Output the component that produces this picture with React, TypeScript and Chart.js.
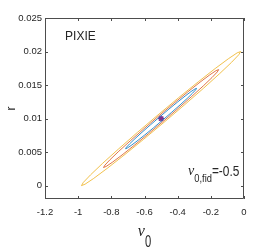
import React, { useEffect, useRef } from 'react';
import { Chart, registerables } from 'chart.js';
Chart.register(...registerables);

const xTicks = [-1.2, -1, -0.8, -0.6, -0.4, -0.2, 0];
const yTicks = [0, 0.005, 0.01, 0.015, 0.02, 0.025];

const orangeX = [-0.02, -0.0315, -0.075, -0.1474, -0.2438, -0.3576, -0.4813, -0.6062, -0.7238, -0.8262, -0.9063, -0.9589, -0.98, -0.9686, -0.925, -0.8526, -0.7562, -0.6424, -0.5187, -0.3938, -0.2762, -0.1738, -0.0937, -0.0412];
const orangeY = [0.02, 0.01952, 0.01839, 0.01669, 0.01453, 0.01207, 0.00946, 0.00689, 0.00453, 0.00255, 0.00107, 0.0002, 0.0, 0.00048, 0.00161, 0.00332, 0.00547, 0.00794, 0.01054, 0.01312, 0.01547, 0.01746, 0.01893, 0.0198];

const redX = [-0.153, -0.1613, -0.1927, -0.2451, -0.3147, -0.3969, -0.4863, -0.5767, -0.6617, -0.7356, -0.7937, -0.8317, -0.847, -0.8387, -0.8073, -0.755, -0.6853, -0.6031, -0.5137, -0.4233, -0.3383, -0.2644, -0.2063, -0.1683];
const redY = [0.0173, 0.01695, 0.01612, 0.01488, 0.01331, 0.01151, 0.0096, 0.00773, 0.00601, 0.00456, 0.00348, 0.00285, 0.0027, 0.00305, 0.00388, 0.00512, 0.00669, 0.00849, 0.0104, 0.01227, 0.01399, 0.01544, 0.01652, 0.01715];

const blueX = [-0.286, -0.2911, -0.3104, -0.3426, -0.3856, -0.4363, -0.4914, -0.5471, -0.5996, -0.6452, -0.681, -0.7045, -0.714, -0.7089, -0.6896, -0.6574, -0.6144, -0.5637, -0.5086, -0.4529, -0.4004, -0.3548, -0.319, -0.2955];
const blueY = [0.0145, 0.01429, 0.01378, 0.013, 0.01203, 0.01093, 0.00975, 0.00859, 0.00753, 0.00664, 0.00598, 0.00559, 0.0055, 0.00572, 0.00623, 0.007, 0.00797, 0.00907, 0.01025, 0.01141, 0.01247, 0.01336, 0.01403, 0.01442];

const fiducial = [-0.5, 0.01];
const labelPos = [-1.079, 0.0222];
const notePos = [-0.3375, 0.0015];

const SANS = '"Liberation Sans", Arial, Helvetica, sans-serif';
const SERIF = '"Liberation Serif", "DejaVu Serif", serif';
const TXT = '#262626';
const AXC = '#4d4d4d';

const fmt = (v: number) => String(Number(Number(v).toFixed(4)));

function drawText(ctx: CanvasRenderingContext2D, text: string, x: number, y: number, font: string, sx = 1) {
  ctx.save();
  ctx.translate(x, y);
  ctx.scale(sx, 1);
  ctx.font = font;
  ctx.textAlign = 'left';
  ctx.textBaseline = 'alphabetic';
  ctx.fillText(text, 0, 0);
  const w = ctx.measureText(text).width * sx;
  ctx.restore();
  return w;
}

function measure(ctx: CanvasRenderingContext2D, text: string, font: string, sx = 1) {
  ctx.save();
  ctx.font = font;
  const w = ctx.measureText(text).width * sx;
  ctx.restore();
  return w;
}

const framePlugin = {
  id: 'frame',
  afterDraw(chart: any) {
    const { ctx, chartArea: a, scales } = chart;
    const xs = scales.x, ys = scales.y;
    ctx.save();
    ctx.strokeStyle = AXC;
    ctx.lineWidth = 1;
    ctx.beginPath();
    ctx.rect(a.left + 0.5, a.top + 0.5, a.right - a.left - 1, a.bottom - a.top - 1);
    ctx.stroke();
    const tl = 3;
    ctx.beginPath();
    xTicks.forEach((v) => {
      const px = Math.round(xs.getPixelForValue(v)) + 0.5;
      ctx.moveTo(px, a.bottom); ctx.lineTo(px, a.bottom - tl);
      ctx.moveTo(px, a.top); ctx.lineTo(px, a.top + tl);
    });
    yTicks.forEach((v) => {
      const py = Math.round(ys.getPixelForValue(v)) + 0.5;
      ctx.moveTo(a.left, py); ctx.lineTo(a.left + tl, py);
      ctx.moveTo(a.right, py); ctx.lineTo(a.right - tl, py);
    });
    ctx.stroke();

    ctx.fillStyle = TXT;
    // PIXIE
    ctx.save();
    ctx.font = `12px ${SANS}`;
    ctx.textAlign = 'left';
    ctx.textBaseline = 'middle';
    ctx.fillText('PIXIE', xs.getPixelForValue(labelPos[0]), ys.getPixelForValue(labelPos[1]));
    ctx.restore();

    // nu_{0,fid}=-0.5
    let nx = xs.getPixelForValue(notePos[0]);
    const ny = ys.getPixelForValue(notePos[1]);
    nx += drawText(ctx, 'ν', nx, ny - 1, `italic 14px ${SERIF}`);
    nx += drawText(ctx, '0,fid', nx, ny + 6, `11px ${SANS}`, 0.85);
    drawText(ctx, '=-0.5', nx, ny, `14px ${SANS}`, 0.85);

    // x title
    const cx = (a.left + a.right) / 2;
    const f1 = `italic 16px ${SERIF}`;
    const f2 = `16px ${SANS}`;
    const w1 = measure(ctx, 'ν', f1);
    const w2 = measure(ctx, '0', f2, 0.7);
    const sx = cx - (w1 + w2) / 2;
    drawText(ctx, 'ν', sx, a.bottom + 36.5, f1);
    drawText(ctx, '0', sx + w1, a.bottom + 48, f2, 0.7);

    // y title
    ctx.save();
    ctx.translate(a.left - 30, (a.top + a.bottom) / 2);
    ctx.rotate(-Math.PI / 2);
    ctx.textAlign = 'center';
    ctx.textBaseline = 'alphabetic';
    ctx.font = `12px ${SANS}`;
    ctx.fillText('r', 0, 0);
    ctx.restore();
    ctx.restore();
  },
};

export default function App() {
  const ref = useRef<HTMLCanvasElement>(null);
  useEffect(() => {
    document.body.style.margin = '0';
    const canvas = ref.current!;
    const toPts = (xsArr: number[], ysArr: number[]) => {
      const p = xsArr.map((x, i) => ({ x, y: ysArr[i] }));
      p.push(p[0]);
      return p;
    };
    const lineDs = (xsArr: number[], ysArr: number[], color: string) => ({
      data: toPts(xsArr, ysArr),
      showLine: true,
      borderColor: color,
      borderWidth: 0.8,
      pointRadius: 0,
      fill: false,
      tension: 0,
    });
    const tickFont = { size: 9.5, family: SANS };
    const chart = new Chart(canvas, {
      type: 'scatter',
      data: {
        datasets: [
          lineDs(orangeX, orangeY, '#EDB120'),
          lineDs(redX, redY, '#D95319'),
          lineDs(blueX, blueY, '#0072BD'),
          {
            data: [{ x: fiducial[0], y: fiducial[1] }],
            pointStyle: 'star',
            pointRadius: 3,
            borderColor: '#7E2F8E',
            backgroundColor: '#7E2F8E',
            borderWidth: 1.5,
          } as any,
        ],
      },
      options: {
        animation: false,
        responsive: false,
        devicePixelRatio: 1,
        layout: { padding: { top: 18, right: 26, left: 0, bottom: 0 } },
        plugins: { legend: { display: false }, tooltip: { enabled: false } },
        scales: {
          x: {
            type: 'linear',
            min: -1.2,
            max: 0,
            afterBuildTicks: (s: any) => { s.ticks = xTicks.map((v) => ({ value: v })); },
            afterFit: (s: any) => { s.height = 50; },
            grid: { display: false, drawTicks: false },
            border: { display: false },
            ticks: { padding: 8, color: TXT, font: tickFont, maxRotation: 0, autoSkip: false, callback: (v: any) => fmt(v) },
          },
          y: {
            type: 'linear',
            min: -0.002,
            max: 0.025,
            afterBuildTicks: (s: any) => { s.ticks = yTicks.map((v) => ({ value: v })); },
            afterFit: (s: any) => { s.width = 45; },
            grid: { display: false, drawTicks: false },
            border: { display: false },
            ticks: { padding: 3, color: TXT, font: tickFont, autoSkip: false, callback: (v: any) => fmt(v) },
          },
        },
      },
      plugins: [framePlugin],
    } as any);
    return () => chart.destroy();
  }, []);
  return (
    <div style={{ position: 'absolute', left: 0, top: 0, width: 270, height: 249, background: '#fff' }}>
      <canvas ref={ref} width={270} height={249} style={{ display: 'block' }} />
    </div>
  );
}
